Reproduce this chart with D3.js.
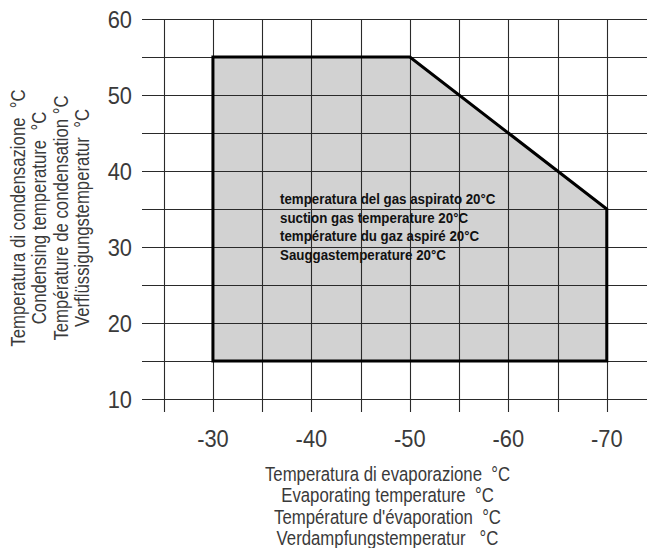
<!DOCTYPE html>
<html>
<head>
<meta charset="utf-8">
<script src="https://cdn.jsdelivr.net/npm/d3@7/dist/d3.min.js"></script>
<style>
  html, body { margin: 0; padding: 0; background: #fff; }
  svg text { font-family: "Liberation Sans", Arial, sans-serif; fill: #3a3a3a; white-space: pre; }
  svg text.note { fill: #111; }
</style>
</head>
<body>
<svg id="chart" width="647" height="548"></svg>
<script>
// Values.
const xTicks       = [ -30, -40, -50, -60, -70 ];
const xGrid        = [ -25, -30, -35, -40, -45, -50, -55, -60, -65, -70 ];
const yTicks       = [ 10, 20, 30, 40, 50, 60 ];
const yGrid        = [ 10, 15, 20, 25, 30, 35, 40, 45, 50, 55, 60 ];
const envelopeEvap = [ -30, -30, -50, -70, -70 ];
const envelopeCond = [  15,  55,  55,  35,  15 ];
const yLabelLines  = [ 'Temperatura di condensazione  °C', 'Condensing temperature  °C', 'Température de condensation °C', 'Verflüssigungstemperatur  °C' ];
const xLabelLines  = [ 'Temperatura di evaporazione  °C', 'Evaporating temperature  °C', "Température d'évaporation  °C", 'Verdampfungstemperatur   °C' ];
const noteLines    = [ 'temperatura del gas aspirato 20°C', 'suction gas temperature 20°C', 'température du gaz aspiré 20°C', 'Sauggastemperature 20°C' ];

const svg = d3.select( '#chart' );

// Scales: evaporating temperature runs to the right as it gets colder.
const x = d3.scaleLinear( ).domain( [ -25, -75 ] ).range( [ 163.7, 656 ] );
const y = d3.scaleLinear( ).domain( [ 10, 60 ] ).range( [ 399, 19 ] );

// Envelope area (drawn under the grid).
const pts = envelopeEvap.map( ( e, i ) => [ x( e ), y( envelopeCond[i] ) ] );
svg.append( 'path' )
  .attr( 'd', d3.line( )( pts ) + 'Z' )
  .attr( 'fill', '#d2d2d2' );

// Grid lines, extended past the axes to act as ticks.
svg.append( 'g' ).selectAll( 'line' )
  .data( yGrid ).enter( ).append( 'line' )
  .attr( 'x1', 142 ).attr( 'x2', 647 )
  .attr( 'y1', d => Math.round( y( d ) ) + 0.5 ).attr( 'y2', d => Math.round( y( d ) ) + 0.5 )
  .attr( 'stroke', '#2a2a2a' ).attr( 'stroke-width', 1.1 );

svg.append( 'g' ).selectAll( 'line' )
  .data( xGrid ).enter( ).append( 'line' )
  .attr( 'x1', d => Math.round( x( d ) ) + 0.5 ).attr( 'x2', d => Math.round( x( d ) ) + 0.5 )
  .attr( 'y1', y( 60 ) ).attr( 'y2', 412 )
  .attr( 'stroke', '#2a2a2a' ).attr( 'stroke-width', 1.1 );

// Envelope outline.
svg.append( 'path' )
  .attr( 'd', d3.line( )( pts ) + 'Z' )
  .attr( 'fill', 'none' )
  .attr( 'stroke', '#000' )
  .attr( 'stroke-width', 3 );

// Condensed text: the source uses a narrow face, so squeeze Liberation Sans.
const squeezed = ( sel, sx ) => sel.attr( 'transform', function ( ) {
  const t = this.getAttribute( 'transform' ) || '';
  return `${t} scale(${sx},1)`;
} );

// Tick labels.
svg.append( 'g' ).selectAll( 'text' )
  .data( yTicks ).enter( ).append( 'text' )
  .attr( 'transform', d => `translate(132,${y( d ) + 9.3})` )
  .attr( 'text-anchor', 'end' )
  .attr( 'font-size', 23.5 )
  .text( d => d )
  .call( squeezed, 0.93 );

svg.append( 'g' ).selectAll( 'text' )
  .data( xTicks ).enter( ).append( 'text' )
  .attr( 'transform', d => `translate(${x( d )},447)` )
  .attr( 'text-anchor', 'middle' )
  .attr( 'font-size', 23.5 )
  .text( d => d )
  .call( squeezed, 0.93 );

// Axis titles.
svg.append( 'g' ).selectAll( 'text' )
  .data( xLabelLines ).enter( ).append( 'text' )
  .attr( 'transform', ( d, i ) => `translate(387.5,${481 + i * 21.3})` )
  .attr( 'text-anchor', 'middle' )
  .attr( 'font-size', 19.5 )
  .text( d => d )
  .call( squeezed, 0.86 );

svg.append( 'g' ).selectAll( 'text' )
  .data( yLabelLines ).enter( ).append( 'text' )
  .attr( 'transform', ( d, i ) => `translate(${25 + i * 21.3},218) rotate(-90)` )
  .attr( 'text-anchor', 'middle' )
  .attr( 'font-size', 19.5 )
  .text( d => d )
  .call( squeezed, 0.86 );

// Suction gas note.
svg.append( 'g' ).selectAll( 'text' )
  .data( noteLines ).enter( ).append( 'text' )
  .attr( 'class', 'note' )
  .attr( 'transform', ( d, i ) => `translate(280,${204 + i * 18.6})` )
  .attr( 'font-size', 15.5 )
  .attr( 'font-weight', 'bold' )
  .text( d => d )
  .call( squeezed, 0.86 );
</script>
</body>
</html>
